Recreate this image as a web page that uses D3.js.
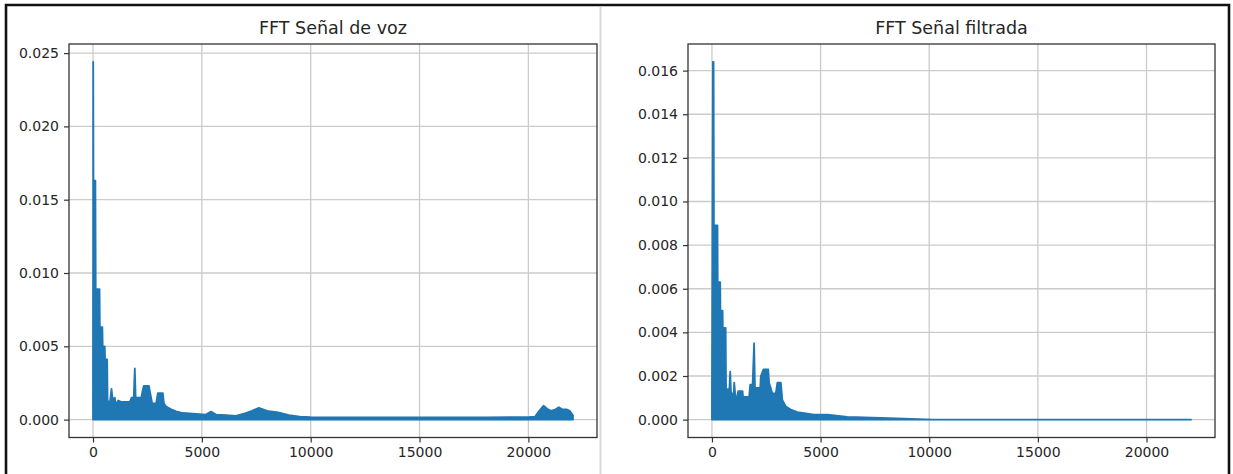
<!DOCTYPE html>
<html>
<head>
<meta charset="utf-8">
<script src="https://cdn.jsdelivr.net/npm/d3@7"></script>
<style>
  html, body { margin: 0; padding: 0; background: #ffffff; }
  svg { display: block; }
  text { font-family: "DejaVu Sans", sans-serif; fill: #262626; }
</style>
</head>
<body>
<svg id="chart" width="1233" height="474"></svg>
<script>
// Magnitude spectrum of the voice recording: upper envelope (Hz, amplitude)
const vozFreq = [0, 10, 22, 110, 125, 300, 315, 430, 445, 540, 555, 650, 670, 780, 850, 900, 1000, 1050,
  1160, 1310, 1690, 1770, 1870, 1920, 1960, 2220, 2270, 2330, 2570, 2630, 2720, 2900, 2980, 3210, 3260,
  3360, 3590, 3820, 4120, 4580, 5190, 5420, 5650, 6100, 6560, 7020, 7300, 7620, 8000, 8500, 9000, 9500,
  10000, 12000, 15000, 18000, 20000, 20300, 20500, 20700, 20900, 21050, 21250, 21400, 21550, 21750,
  21900, 22000, 22050];
const vozAmp = [0.0010, 0.0244, 0.0163, 0.0163, 0.0089, 0.0089, 0.0063, 0.0063, 0.0050, 0.0050, 0.0041,
  0.0041, 0.0013, 0.0012, 0.0021, 0.0014, 0.0015, 0.0010, 0.0013, 0.0012, 0.0012, 0.0015, 0.0015, 0.0035,
  0.0015, 0.0015, 0.0019, 0.0023, 0.0023, 0.0018, 0.0011, 0.0011, 0.0018, 0.0018, 0.0011, 0.0009, 0.0007,
  0.00057, 0.00045, 0.0004, 0.00034, 0.00055, 0.00034, 0.0003, 0.00025, 0.00045, 0.0006, 0.0008, 0.0006,
  0.0005, 0.0003, 0.0002, 0.00017, 0.00015, 0.00015, 0.00015, 0.00017, 0.0002, 0.0006, 0.00095, 0.0007,
  0.0006, 0.0007, 0.00085, 0.0007, 0.0007, 0.0006, 0.0004, 0.0003];

// Magnitude spectrum after filtering: upper envelope (Hz, amplitude)
const filtFreq = [0, 45, 75, 90, 255, 265, 380, 390, 490, 500, 630, 650, 800, 840, 880, 1000, 1025, 1100,
  1210, 1410, 1430, 1710, 1760, 1870, 1940, 1980, 2220, 2250, 2370, 2590, 2630, 2780, 2940, 3010, 3170,
  3240, 3400, 3630, 3930, 4700, 5310, 6230, 7760, 8500, 9500, 10200, 22050];
const filtAmp = [0.0010, 0.0164, 0.0164, 0.0089, 0.0089, 0.0063, 0.0063, 0.0050, 0.0050, 0.0042, 0.0042,
  0.0014, 0.0014, 0.0022, 0.0012, 0.0012, 0.0017, 0.0008, 0.0013, 0.0013, 0.00104, 0.00104, 0.0016,
  0.0016, 0.0035, 0.00145, 0.00145, 0.0020, 0.0023, 0.0023, 0.0017, 0.0012, 0.0012, 0.0017, 0.0017,
  0.0009, 0.0006, 0.00046, 0.00034, 0.00023, 0.00023, 0.00012, 0.00008, 0.00005, 0.00002, 0, 0];

const freqTicks = [0, 5000, 10000, 15000, 20000];
const vozTicks = [0, 0.005, 0.010, 0.015, 0.020, 0.025];
const filtTicks = [0, 0.002, 0.004, 0.006, 0.008, 0.010, 0.012, 0.014, 0.016];
const titles = ["FFT Señal de voz", "FFT Señal filtrada"];

const svg = d3.select("#chart");
const W = 1233, H = 474;
const BLUE = "#1f77b4";

// Outer frame and the divider between the two panels
svg.append("rect").attr("width", W).attr("height", H).attr("fill", "#fff");
svg.append("line").attr("x1", 600.5).attr("x2", 600.5).attr("y1", 7).attr("y2", H)
  .attr("stroke", "#d9d9d9").attr("stroke-width", 2);
svg.append("path")
  .attr("d", `M6,${H} L6,5 L1229,5 L1229,${H}`)
  .attr("fill", "none").attr("stroke", "#111").attr("stroke-width", 2.6);

// matplotlib-style 5% margin around the data
function padded(lo, hi) {
  const m = (hi - lo) * 0.05;
  return [lo - m, hi + m];
}

function panel(cfg) {
  const { freq, amp, yTicks, title, left, right, top, bottom } = cfg;
  const data = freq.map((f, i) => ({ f, a: amp[i] }));

  const x = d3.scaleLinear().domain(padded(d3.min(freq), d3.max(freq))).range([left, right]);
  const y = d3.scaleLinear().domain(padded(0, d3.max(amp))).range([bottom, top]);

  const g = svg.append("g");

  // grid
  g.append("g").selectAll("line").data(freqTicks).join("line")
    .attr("x1", d => x(d)).attr("x2", d => x(d)).attr("y1", top).attr("y2", bottom)
    .attr("stroke", "#cbcbcb").attr("stroke-width", 1.3);
  g.append("g").selectAll("line").data(yTicks).join("line")
    .attr("x1", left).attr("x2", right).attr("y1", d => y(d)).attr("y2", d => y(d))
    .attr("stroke", "#cbcbcb").attr("stroke-width", 1.3);

  // spectrum
  const area = d3.area().x(d => x(d.f)).y0(y(0)).y1(d => y(d.a));
  g.append("path").datum(data).attr("d", area)
    .attr("fill", BLUE).attr("stroke", BLUE).attr("stroke-width", 1.8)
    .attr("stroke-linejoin", "round");

  // axes
  const xAxis = d3.axisBottom(x).tickValues(freqTicks).tickFormat(d3.format("d"))
    .tickSizeOuter(0).tickSizeInner(5).tickPadding(5);
  const yAxis = d3.axisLeft(y).tickValues(yTicks).tickFormat(d3.format(".3f"))
    .tickSizeOuter(0).tickSizeInner(5).tickPadding(5);

  const gx = g.append("g").attr("transform", `translate(0,${bottom})`).call(xAxis);
  const gy = g.append("g").attr("transform", `translate(${left},0)`).call(yAxis);
  [gx, gy].forEach(a => {
    a.select(".domain").remove();
    a.selectAll(".tick line").attr("stroke", "#333").attr("stroke-width", 1.2);
    a.selectAll(".tick text").attr("font-size", 14)
      .attr("font-family", "DejaVu Sans, sans-serif").attr("fill", "#262626");
  });

  // frame of the axes
  g.append("rect").attr("x", left).attr("y", top)
    .attr("width", right - left).attr("height", bottom - top)
    .attr("fill", "none").attr("stroke", "#333").attr("stroke-width", 1.3);

  g.append("text").attr("x", (left + right) / 2).attr("y", 34)
    .attr("text-anchor", "middle").attr("font-size", 17.5).text(title);
}

panel({ freq: vozFreq, amp: vozAmp, yTicks: vozTicks, title: titles[0],
  left: 69, right: 597, top: 44, bottom: 437.5 });
panel({ freq: filtFreq, amp: filtAmp, yTicks: filtTicks, title: titles[1],
  left: 688, right: 1215, top: 44, bottom: 437.5 });
</script>
</body>
</html>
